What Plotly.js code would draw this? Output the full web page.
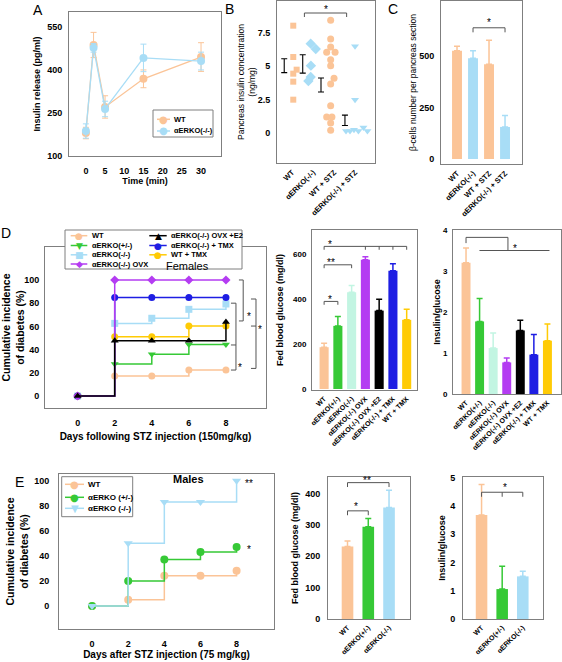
<!DOCTYPE html>
<html><head><meta charset="utf-8">
<script src="https://cdn.plot.ly/plotly-3.0.1.min.js"></script>
<style>html,body{margin:0;padding:0;background:#fff}#chart{width:562px;height:662px}</style>
</head><body><div id="chart"></div><script>
// ===== DATA =====
// Panel A: insulin release over time
const aTime = [0, 2, 5, 15, 30];
const aWT = [180, 487, 271, 369, 445];
const aWTerr = [20, 44, 39, 31, 50];
const aKO = [187, 477, 264, 442, 431];
const aKOerr = [25, 15, 27, 48, 31];

// Panel B: pancreas insulin concentration (individual animals)
const bGroups = ['WT', 'αERKO(-/-)', 'WT + STZ', 'αERKO(-/-) + STZ'];
const bWT = [8.05, 5.7, 4.75, 4.45, 3.85, 2.5];
const bKO = [6.7, 6.3, 5.05, 4.2, 3.9];
const bWTSTZ = [8.45, 7.05, 6.45, 6.05, 6.05, 5.5, 5.05, 4.1, 3.68, 2.05, 1.2, 1.2, 0.75, 0.2];
const bKOSTZ = [6.5, 2.5, 0.15, 0.15, 0.25, 0.15, 0.42, 0.15];
const bMean = [5.05, 5.18, 3.6, 0.95];
const bSem = [0.52, 0.69, 0.52, 0.39];

// Panel C: beta-cell number
const cGroups = ['WT', 'αERKO(-/-)', 'WT + STZ', 'αERKO(-/-) + STZ'];
const cVals = [526, 489, 460, 156];
const cErr = [21, 37, 116, 55];

// Panel D: females, 150 mg/kg STZ
const dDays = [0, 2, 4, 6, 8];
const dWT = [0, 17.2, 17.2, 22.4, 22.4];
const dHet = [0, 27.6, 35.9, 44.5, 44.5];
const dKO = [0, 62.6, 67, 74.7, 79.3];
const dWTTMX = [0, 51, 51, 60.3, 60.3];
const dTMX = [0, 85, 85, 85, 85];
const dOVX = [0, 100, 100, 100, 100];
const dE2 = [0, 47.7, 47.7, 47.7, 63.8];
const dGroups = ['WT', 'αERKO(+/-)', 'αERKO(-/-)', 'αERKO(-/-) OVX', 'αERKO(-/-) OVX +E2', 'αERKO(-/-) + TMX', 'WT + TMX'];
const dGlu = [186, 281, 431, 575, 349, 526, 308];
const dGluErr = [18, 42, 30, 14, 51, 32, 47];
const dIG = [3.2, 1.77, 1.12, 0.77, 1.55, 0.96, 1.3];
const dIGErr = [0.36, 0.56, 0.37, 0.11, 0.25, 0.49, 0.41];

// Panel E: males, 75 mg/kg STZ
const eDays = [0, 2, 4, 6, 8];
const eWT = [0, 5, 24, 24, 28];
const eHet = [0, 20, 37, 43, 47];
const eKO = [0, 50, 83, 83, 100];
const eGroups = ['WT', 'αERKO(+/-)', 'αERKO(-/-)'];
const eGlu = [231, 294, 356];
const eGluErr = [18, 27, 55];
const eIG = [3.68, 1.06, 1.51];
const eIGErr = [1.08, 0.81, 0.18];

// ===== STYLE =====
const F = 'Liberation Sans, Arial, Helvetica, sans-serif';
const SYMF = 'DejaVu Sans, sans-serif';
const PEACH = '#FBC497', SKY = '#A8DDF6', GREEN = '#36C936', MINT = '#C2F5E2',
      PURPLE = '#B43CF2', BLUE = '#1E1EE3', GOLD = '#FFCB05', BLACK = '#000000', SKYD = '#A8DDF6';
const FRAME = '#7f7f7f';
const W = 562, H = 662;
const dx = (a, b) => [a / W, b / W];
const dy = (top, bot) => [1 - bot / H, 1 - top / H];
const PX = v => v / W, PY = v => 1 - v / H;

const traces = [];
const shapes = [];
const ann = [];

// ---- Panel A ----
[[aWT, aWTerr, PEACH, 'WT'], [aKO, aKOerr, SKY, 'αERKO(-/-)']].forEach(([ys, es, c, n]) => {
  traces.push({type: 'scatter', mode: 'lines+markers', name: n, x: aTime, y: ys, xaxis: 'x', yaxis: 'y',
    line: {color: c, width: 1.3}, marker: {color: c, size: 8},
    error_y: {type: 'data', array: es, color: c, thickness: 1, width: 3}});
});

// ---- Panel B ----
const bSets = [bWT, bKO, bWTSTZ, bKOSTZ];
const bJitter = [
  [0.06, 0.06, 0.22, 0.06, 0.06, 0.06],
  [-0.11, 0.13, -0.1, -0.11, -0.22],
  [-0.16, -0.16, -0.16, -0.35, 0.05, -0.16, -0.16, 0.0, -0.16, -0.16, -0.35, -0.1, -0.16, -0.16],
  [0, 0, -0.43, -0.24, -0.05, 0.16, 0.4, 0.59]
];
const bSym = ['square', 'diamond', 'circle', 'triangle-down'];
const bSize = [6, 8, 7, 7];
const bCol = [PEACH, SKY, PEACH, SKY];
const bSemOff = [-0.37, -0.49, -0.62, -0.48];
bSets.forEach((vals, g) => {
  traces.push({type: 'scatter', mode: 'markers', name: bGroups[g], x: vals.map((v, i) => g + 1 + bJitter[g][i]), y: vals,
    xaxis: 'x2', yaxis: 'y2', marker: {symbol: bSym[g], color: bCol[g], size: bSize[g]}});
});
traces.push({type: 'scatter', mode: 'markers', name: 'mean ± SEM', x: bMean.map((v, g) => g + 1 + bSemOff[g]), y: bMean,
  xaxis: 'x2', yaxis: 'y2', marker: {color: 'rgba(0,0,0,0)', size: 2},
  error_y: {type: 'data', array: bSem, color: '#000', thickness: 1.1, width: 3}});

// ---- Bars helper ----
function bars(vals, errs, colors, xa, ya, width, names) {
  vals.forEach((v, i) => {
    traces.push({type: 'bar', name: names[i], x: [i], y: [v], width: width, xaxis: xa, yaxis: ya,
      marker: {color: colors[i], line: {width: 0}},
      error_y: {type: 'data', array: [errs[i]], arrayminus: [0], symmetric: false, color: colors[i], thickness: 1.5, width: 3}});
  });
}
bars(cVals, cErr, [PEACH, SKY, PEACH, SKY], 'x3', 'y3', 0.62, cGroups);

// ---- Panel D curves ----
const dSeries = [
  [dWT, PEACH, 'circle', 'WT'],
  [dHet, GREEN, 'triangle-down', 'αERKO(+/-)'],
  [dKO, SKYD, 'square', 'αERKO(-/-)'],
  [dWTTMX, GOLD, 'circle', 'WT + TMX'],
  [dTMX, BLUE, 'circle', 'αERKO(-/-) + TMX'],
  [dOVX, PURPLE, 'diamond', 'αERKO(-/-) OVX'],
  [dE2, BLACK, 'triangle-up', 'αERKO(-/-) OVX +E2']
];
dSeries.forEach(([ys, c, s, n]) => {
  traces.push({type: 'scatter', mode: 'lines+markers', name: n, x: dDays, y: ys, xaxis: 'x4', yaxis: 'y4',
    line: {color: c, width: 1.5, shape: 'hv'}, marker: {color: c, symbol: s, size: 7}});
});
const dBarCols = [PEACH, GREEN, MINT, PURPLE, BLACK, BLUE, GOLD];
bars(dGlu, dGluErr, dBarCols, 'x5', 'y5', 0.66, dGroups);
bars(dIG, dIGErr, dBarCols, 'x6', 'y6', 0.66, dGroups);

// ---- Panel E curves ----
[[eWT, PEACH, 'circle', 'WT'], [eHet, GREEN, 'circle', 'αERKO (+/-)'], [eKO, SKY, 'triangle-down', 'αERKO (-/-)']]
  .forEach(([ys, c, s, n]) => {
    traces.push({type: 'scatter', mode: 'lines+markers', name: n, x: eDays, y: ys, xaxis: 'x7', yaxis: 'y7',
      line: {color: c, width: 1.5, shape: 'hv'}, marker: {color: c, symbol: s, size: 8}});
  });
bars(eGlu, eGluErr, [PEACH, GREEN, SKY], 'x8', 'y8', 0.56, eGroups);
bars(eIG, eIGErr, [PEACH, GREEN, SKY], 'x9', 'y9', 0.56, eGroups);

// ===== ANNOTATION HELPERS =====
function ln(xr, yr, x0, y0, x1, y1, col, w) {
  shapes.push({type: 'line', xref: xr, yref: yr, x0, y0, x1, y1, line: {color: col || '#555', width: w || 1}});
}
function txt(xr, yr, x, y, t, size, opts) {
  ann.push(Object.assign({xref: xr, yref: yr, x, y, text: t, showarrow: false,
    font: {family: F, size: size || 10, color: '#000'}, xanchor: 'center', yanchor: 'middle'}, opts || {}));
}
function star(xr, yr, x, y, t) { txt(xr, yr, x, y, t, 10, {yshift: -3}); }

// Panel letters
txt('paper', 'paper', PX(38), PY(10), 'A', 14);
txt('paper', 'paper', PX(229), PY(9), 'B', 14);
txt('paper', 'paper', PX(393), PY(9), 'C', 14);
txt('paper', 'paper', PX(6), PY(233), 'D', 14);
txt('paper', 'paper', PX(19), PY(482), 'E', 14);

// B bracket
ln('x2', 'y2', 1.59, 9.0, 3.6, 9.0); ln('x2', 'y2', 1.59, 9.0, 1.59, 8.7); ln('x2', 'y2', 3.6, 9.0, 3.6, 8.7);
star('x2', 'y2', 2.6, 9.5, '*');
// C bracket
ln('x3', 'y3', 1, 637, 3, 637); ln('x3', 'y3', 1, 637, 1, 615); ln('x3', 'y3', 3, 637, 3, 615);
star('x3', 'y3', 2, 675, '*');

// D left brackets
ln('x4', 'y4', 8.93, 100, 8.93, 64.7); ln('x4', 'y4', 8.70, 100, 8.93, 100); ln('x4', 'y4', 8.70, 64.7, 8.93, 64.7);
star('x4', 'y4', 9.24, 71, '*');
ln('x4', 'y4', 8.54, 80, 8.54, 22.4); ln('x4', 'y4', 8.27, 80, 8.54, 80); ln('x4', 'y4', 8.27, 44, 8.54, 44); ln('x4', 'y4', 8.27, 22.4, 8.54, 22.4);
star('x4', 'y4', 8.75, 27.6, '*');
ln('x4', 'y4', 9.62, 83.6, 9.62, 23.8); ln('x4', 'y4', 9.35, 83.6, 9.62, 83.6); ln('x4', 'y4', 9.35, 60.3, 9.62, 60.3); ln('x4', 'y4', 9.35, 23.8, 9.62, 23.8);
star('x4', 'y4', 9.83, 59.7, '*');
txt('x4', 'y4', 5.95, 111.8, 'Females', 11);

// D glucose brackets
ln('x5', 'y5', 0, 635, 6, 635);
[0, 3, 4, 5, 6].forEach(i => ln('x5', 'y5', i, 635, i, 620));
star('x5', 'y5', 0.44, 659, '*');
ln('x5', 'y5', 0, 553, 2, 553); ln('x5', 'y5', 0, 553, 0, 538); ln('x5', 'y5', 2, 553, 2, 538);
star('x5', 'y5', 0.5, 578, '**');
ln('x5', 'y5', 0, 390, 1, 390); ln('x5', 'y5', 0, 390, 0, 375); ln('x5', 'y5', 1, 390, 1, 375);
star('x5', 'y5', 0.46, 412, '*');

// D insulin/glucose brackets
ln('x6', 'y6', 0, 3.82, 3.09, 3.82); ln('x6', 'y6', 0, 3.82, 0, 3.68); ln('x6', 'y6', 3.09, 3.82, 3.09, 3.5);
ln('x6', 'y6', 0.99, 3.5, 6.15, 3.5);
star('x6', 'y6', 3.63, 3.62, '*');

// E left
star('x7', 'y7', 8.69, 100, '**');
star('x7', 'y7', 8.69, 47.3, '*');
txt('x7', 'y7', 5.32, 101, '<b>Males</b>', 11);

// E glucose
ln('x8', 'y8', 0, 435, 2, 435); ln('x8', 'y8', 0, 435, 0, 421); ln('x8', 'y8', 2, 435, 2, 421);
star('x8', 'y8', 0.92, 452, '**');
ln('x8', 'y8', 0, 345, 1, 345); ln('x8', 'y8', 0, 345, 0, 331); ln('x8', 'y8', 1, 345, 1, 331);
star('x8', 'y8', 0.43, 368, '*');
// E insulin/glucose
ln('x9', 'y9', 0, 4.49, 2, 4.49); [0, 1, 2].forEach(i => ln('x9', 'y9', i, 4.49, i, 4.33));
star('x9', 'y9', 1.14, 4.76, '*');

// ===== LEGENDS (drawn as boxes with glyph + text) =====
function legendBox(x0, y0, x1, y1) {
  shapes.push({type: 'rect', xref: 'paper', yref: 'paper', x0: PX(x0), x1: PX(x1), y0: PY(y1), y1: PY(y0),
    fillcolor: '#fff', line: {color: FRAME, width: 1}, layer: 'above'});
}
const glyph = {'circle': '●', 'triangle-down': '▼', 'square': '■', 'diamond': '◆', 'triangle-up': '▲'};
function legendItem(lx0, lx1, y, color, sym, label, tx, fs, ms) {
  shapes.push({type: 'line', xref: 'paper', yref: 'paper', x0: PX(lx0), x1: PX(lx1), y0: PY(y), y1: PY(y),
    line: {color: color, width: 1.5}, layer: 'above'});
  ann.push({xref: 'paper', yref: 'paper', x: PX((lx0 + lx1) / 2), y: PY(y), text: glyph[sym], showarrow: false,
    font: {family: SYMF, size: ms || 9, color: color}, xanchor: 'center', yanchor: 'middle'});
  ann.push({xref: 'paper', yref: 'paper', x: PX(tx), y: PY(y), text: '<b>' + label + '</b>', showarrow: false,
    font: {family: F, size: fs || 8, color: '#000'}, xanchor: 'left', yanchor: 'middle'});
}
// A legend
legendBox(153, 110, 213, 137);
legendItem(157, 170, 119.3, PEACH, 'circle', 'WT', 172, 7.5, 10);
legendItem(157, 170, 131, SKY, 'circle', 'αERKO(-/-)', 172, 7.5, 10);
// D legend
legendBox(65, 230, 242, 269);
legendItem(70.7, 87.3, 235.7, PEACH, 'circle', 'WT', 90, 7.5);
legendItem(70.7, 87.3, 245.5, GREEN, 'triangle-down', 'αERKO(+/-)', 90, 7.5);
legendItem(70.7, 87.3, 254.8, SKYD, 'square', 'αERKO(-/-)', 90, 7.5);
legendItem(70.7, 87.3, 264, PURPLE, 'diamond', 'αERKO(-/-) OVX', 90, 7.5);
legendItem(149.3, 166.7, 235.7, BLACK, 'triangle-up', 'αERKO(-/-) OVX +E2', 169, 7.5);
legendItem(149.3, 166.7, 245.5, BLUE, 'circle', 'αERKO(-/-) + TMX', 169, 7.5);
legendItem(149.3, 166.7, 254.8, GOLD, 'circle', 'WT + TMX', 169, 7.5);
// E legend
legendBox(61.7, 476.7, 132.7, 516.7);
legendItem(65, 84, 484.3, PEACH, 'circle', 'WT', 86, 8, 10);
legendItem(65, 84, 497.3, GREEN, 'circle', 'αERKO (+/-)', 86, 8, 10);
legendItem(65, 84, 508.3, SKY, 'triangle-down', 'αERKO (-/-)', 86, 8, 10);

// ===== AXES =====
function ax(o) {
  return Object.assign({showline: true, mirror: true, linecolor: FRAME, linewidth: 1, showgrid: false, zeroline: false,
    ticks: 'outside', ticklen: 3, tickcolor: 'rgba(0,0,0,0)', fixedrange: true,
    tickfont: {family: F, size: 9, color: '#000', weight: 'bold'}}, o);
}
function ttl(t, size, standoff, bold) {
  return {text: t, standoff: standoff, font: {family: F, size: size, color: '#000', weight: bold === false ? 'normal' : 'bold'}};
}
const catFont = {family: F, size: 7.5, color: '#000', weight: 'bold'};

const layout = {
  width: W, height: H, margin: {l: 0, r: 0, t: 0, b: 0}, showlegend: false, barmode: 'overlay',
  paper_bgcolor: '#fff', plot_bgcolor: 'rgba(0,0,0,0)', font: {family: F, color: '#000'},
  // A
  xaxis: ax({domain: dx(69, 221), anchor: 'y', range: [-4.4, 35.2], tickvals: [0, 5, 10, 15, 20, 25, 30], ticklen: 6,
    title: ttl('Time (min)', 9, 2)}),
  yaxis: ax({domain: dy(12, 156), anchor: 'x', range: [100, 602], tickvals: [100, 250, 400, 550], ticklen: 4,
    title: ttl('Insulin release (pg/ml)', 9, 5)}),
  // B
  xaxis2: ax({domain: dx(277, 375), anchor: 'y2', range: [0.286, 4.95], tickvals: [1, 2, 3, 4], ticktext: bGroups,
    tickangle: -45, tickfont: catFont, ticklen: 1}),
  yaxis2: ax({domain: dy(1, 163), anchor: 'x2', range: [-2.25, 9.9], tickvals: [0, 2.5, 5, 7.5], ticktext: ['0', '2.5', '5', '7.5'],
    ticklen: 4, title: ttl('Pancreas insulin concentration<br>(ng/mg)', 8.5, 0, false)}),
  // C
  xaxis3: ax({domain: dx(441, 522), anchor: 'y3', range: [-1, 4.06], tickvals: [0, 1, 2, 3], ticktext: cGroups,
    tickangle: -45, tickfont: catFont, ticklen: 1}),
  yaxis3: ax({domain: dy(1, 164), anchor: 'x3', range: [-24, 767], tickvals: [0, 250, 500], ticklen: 4,
    title: ttl('β-cells number per pancreas section', 8.5, 1, false)}),
  // D left
  xaxis4: ax({domain: dx(45, 266), anchor: 'y4', range: [-1.76, 10.16], tickvals: [0, 2, 4, 6, 8], ticklen: 6,
    title: ttl('Days following STZ injection (150mg/kg)', 10, 6)}),
  yaxis4: ax({domain: dy(247, 408), anchor: 'x4', range: [-10.3, 128.4], tickvals: [0, 20, 40, 60, 80, 100], ticklen: 3,
    title: ttl('Cumulative incidence<br>of diabetes (%)', 10.5, 1)}),
  // D glucose
  xaxis5: ax({domain: dx(312, 417), anchor: 'y5', range: [-0.88, 6.75], tickvals: [0, 1, 2, 3, 4, 5, 6], ticktext: dGroups,
    tickangle: -45, tickfont: Object.assign({}, catFont, {size: 7}), ticklen: 1}),
  yaxis5: ax({domain: dy(230, 390), anchor: 'x5', range: [-4.5, 708], tickvals: [0, 200, 400, 600], ticklen: 3,
    tickfont: {family: F, size: 8, color: '#000', weight: 'bold'},
    title: ttl('Fed blood glucose (mg/dl)', 9, 7)}),
  // D insulin/glucose
  xaxis6: ax({domain: dx(453, 561), anchor: 'y6', range: [-0.96, 7.0], tickvals: [0, 1, 2, 3, 4, 5, 6], ticktext: dGroups,
    tickangle: -45, tickfont: Object.assign({}, catFont, {size: 7}), ticklen: 1}),
  yaxis6: ax({domain: dy(230, 394), anchor: 'x6', range: [0, 4], tickvals: [0, 1, 2, 3, 4], ticklen: 3,
    tickfont: {family: F, size: 8, color: '#000', weight: 'bold'},
    title: ttl('Insulin/glucose', 9, 0)}),
  // E left
  xaxis7: ax({domain: dx(59, 274), anchor: 'y7', range: [-1.83, 10.07], tickvals: [0, 2, 4, 6, 8], ticklen: 6,
    title: ttl('Days after STZ injection (75 mg/kg)', 10, 3)}),
  yaxis7: ax({domain: dy(474, 629), anchor: 'x7', range: [-18.4, 105.3], tickvals: [0, 20, 40, 60, 80, 100], ticklen: 7,
    title: ttl('Cumulative incidence<br>of diabetes (%)', 10.5, 3)}),
  // E glucose
  xaxis8: ax({domain: dx(328, 410), anchor: 'y8', range: [-0.94, 3.01], tickvals: [0, 1, 2], ticktext: eGroups,
    tickangle: -45, tickfont: Object.assign({}, catFont, {size: 7}), ticklen: 1}),
  yaxis8: ax({domain: dy(477, 619), anchor: 'x8', range: [0, 453], tickvals: [0, 100, 200, 300, 400], ticklen: 5,
    title: ttl('Fed blood glucose (mg/dl)', 9, 5)}),
  // E insulin/glucose
  xaxis9: ax({domain: dx(463, 543), anchor: 'y9', range: [-0.9, 2.98], tickvals: [0, 1, 2], ticktext: eGroups,
    tickangle: -45, tickfont: Object.assign({}, catFont, {size: 7}), ticklen: 1}),
  yaxis9: ax({domain: dy(477, 619), anchor: 'x9', range: [0, 5.03], tickvals: [0, 1, 2, 3, 4, 5], ticklen: 5,
    title: ttl('Insulin/glucose', 9, 3)}),
  shapes: shapes,
  annotations: ann
};

Plotly.newPlot('chart', traces, layout, {displayModeBar: false, staticPlot: true});
</script></body></html>
